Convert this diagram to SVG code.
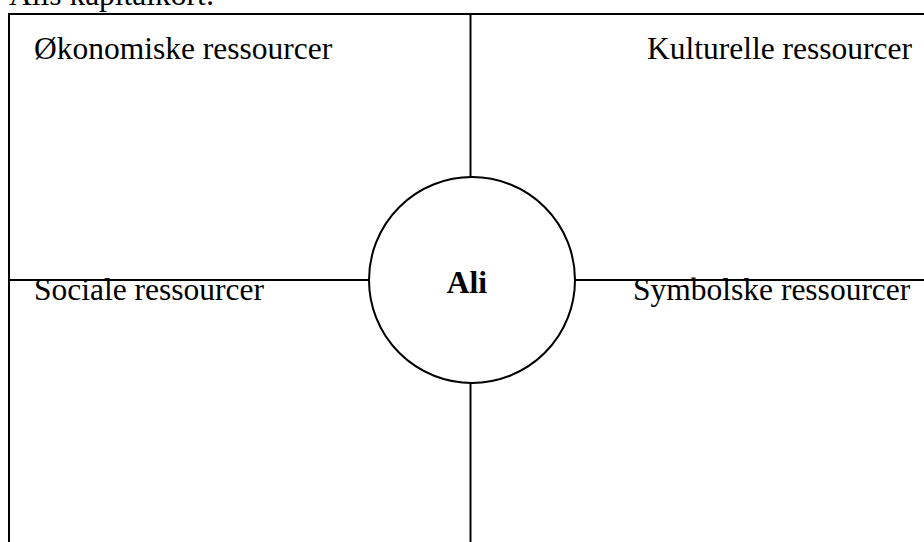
<svg xmlns="http://www.w3.org/2000/svg" width="924" height="542" viewBox="0 0 924 542">
<style>
.t{font-family:"Liberation Serif","Times New Roman",serif;font-size:31.5px;fill:#000}
.b{font-weight:bold}
.ln{stroke:#000;stroke-width:2;fill:none}
</style>
<rect width="924" height="542" fill="#fff"/>
<text class="t" x="9" y="5">Alis kapitalkort:</text>
<g id="frame">
<path class="ln" d="M9,560 V14 H940"/>
</g>
<g id="connectors">
<line class="ln" x1="470.5" y1="14" x2="470.5" y2="177"/>
<line class="ln" x1="470.5" y1="383" x2="470.5" y2="560"/>
<line class="ln" x1="9" y1="280" x2="369" y2="280"/>
<line class="ln" x1="575" y1="280" x2="940" y2="280"/>
</g>
<g id="economic"><text class="t" x="34" y="59">Økonomiske ressourcer</text></g>
<g id="cultural"><text class="t" x="647" y="59">Kulturelle ressourcer</text></g>
<g id="social"><text class="t" x="34" y="300">Sociale ressourcer</text></g>
<g id="symbolic"><text class="t" x="633" y="300">Symbolske ressourcer</text></g>
<g id="ali">
<circle class="ln" cx="472" cy="280" r="103" fill="#fff"/>
<text class="t b" x="467" y="293" text-anchor="middle">Ali</text>
</g>
</svg>
